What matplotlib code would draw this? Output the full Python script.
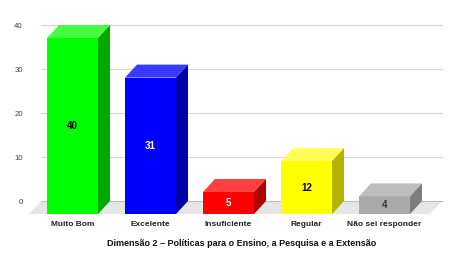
import matplotlib
matplotlib.use("Agg")
import matplotlib.pyplot as plt
from matplotlib.patches import Polygon

categories = ["Muito Bom", "Excelente", "Insuficiente", "Regular", "Não sei responder"]
values = [40, 31, 5, 12, 4]
yticks = [0, 10, 20, 30, 40]
title = "Dimensão 2 – Políticas para o Ensino, a Pesquisa e a Extensão"

front_colors = ["#00ff00", "#0000ff", "#ff0000", "#ffff00", "#aaaaaa"]
top_colors = ["#44ff44", "#3a3aff", "#ff4040", "#ffff55", "#bdbdbd"]
side_colors = ["#00a800", "#0000a8", "#b00000", "#b4b400", "#7d7d7d"]
label_colors = ["#000000", "#ffffff", "#ffffff", "#000000", "#333333"]

plt.rcParams['font.family'] = ['Liberation Sans', 'DejaVu Sans']

W, H = 476, 257
fig = plt.figure(figsize=(W / 100, H / 100), dpi=100)
ax = fig.add_axes([41 / W, 56 / H, 401 / W, 176 / H])

x0 = -0.4038
x1 = 4.737
ax.set_xlim(x0, x1)
ax.set_ylim(0, 40)

dx = 12 / 78
dy = 13 / 4.4
w = 51 / 78

# gridlines
for t in yticks:
    ax.plot([x0, x1], [t, t], color="#d6d6d6" if t else "#bdbdbd", lw=0.8, zorder=1, clip_on=False)

# floor
floor = Polygon([(x0, 0), (x1, 0), (x1 - dx, -dy), (x0 - dx, -dy)], closed=True,
                facecolor="#e6e6e6", edgecolor="none", zorder=0.5, clip_on=False)
ax.add_patch(floor)

xs = list(range(len(categories)))
ax.bar(xs, values, bottom=-dy, width=w, color=front_colors, zorder=3, clip_on=False)
for i, v in enumerate(values):
    xl, xr = i - w / 2, i + w / 2
    top = Polygon([(xl, v - dy), (xr, v - dy), (xr + dx, v), (xl + dx, v)], closed=True,
                  facecolor=top_colors[i], edgecolor="none", zorder=3, clip_on=False)
    side = Polygon([(xr, -dy), (xr + dx, 0), (xr + dx, v), (xr, v - dy)], closed=True,
                   facecolor=side_colors[i], edgecolor="none", zorder=3, clip_on=False)
    ax.add_patch(top)
    ax.add_patch(side)
    ax.text(i, v / 2 - dy, str(v), ha="center", va="center", fontsize=7,
            fontweight="bold", color=label_colors[i], zorder=4)

ax.set_yticks(yticks)
ax.set_yticklabels([str(t) for t in yticks], fontsize=5.6, color="#444444")
ax.set_xticks(xs)
ax.set_xticklabels(categories, fontsize=6, fontweight="bold", color="#222222")
ax.tick_params(axis="y", length=0, pad=13)
ax.tick_params(axis="x", length=0, pad=14.5)
ax.set_xlabel(title, fontsize=6.5, fontweight="bold", color="#111111", labelpad=8)
for s in ax.spines.values():
    s.set_visible(False)

fig.savefig("out.png", dpi=100, facecolor="white")
